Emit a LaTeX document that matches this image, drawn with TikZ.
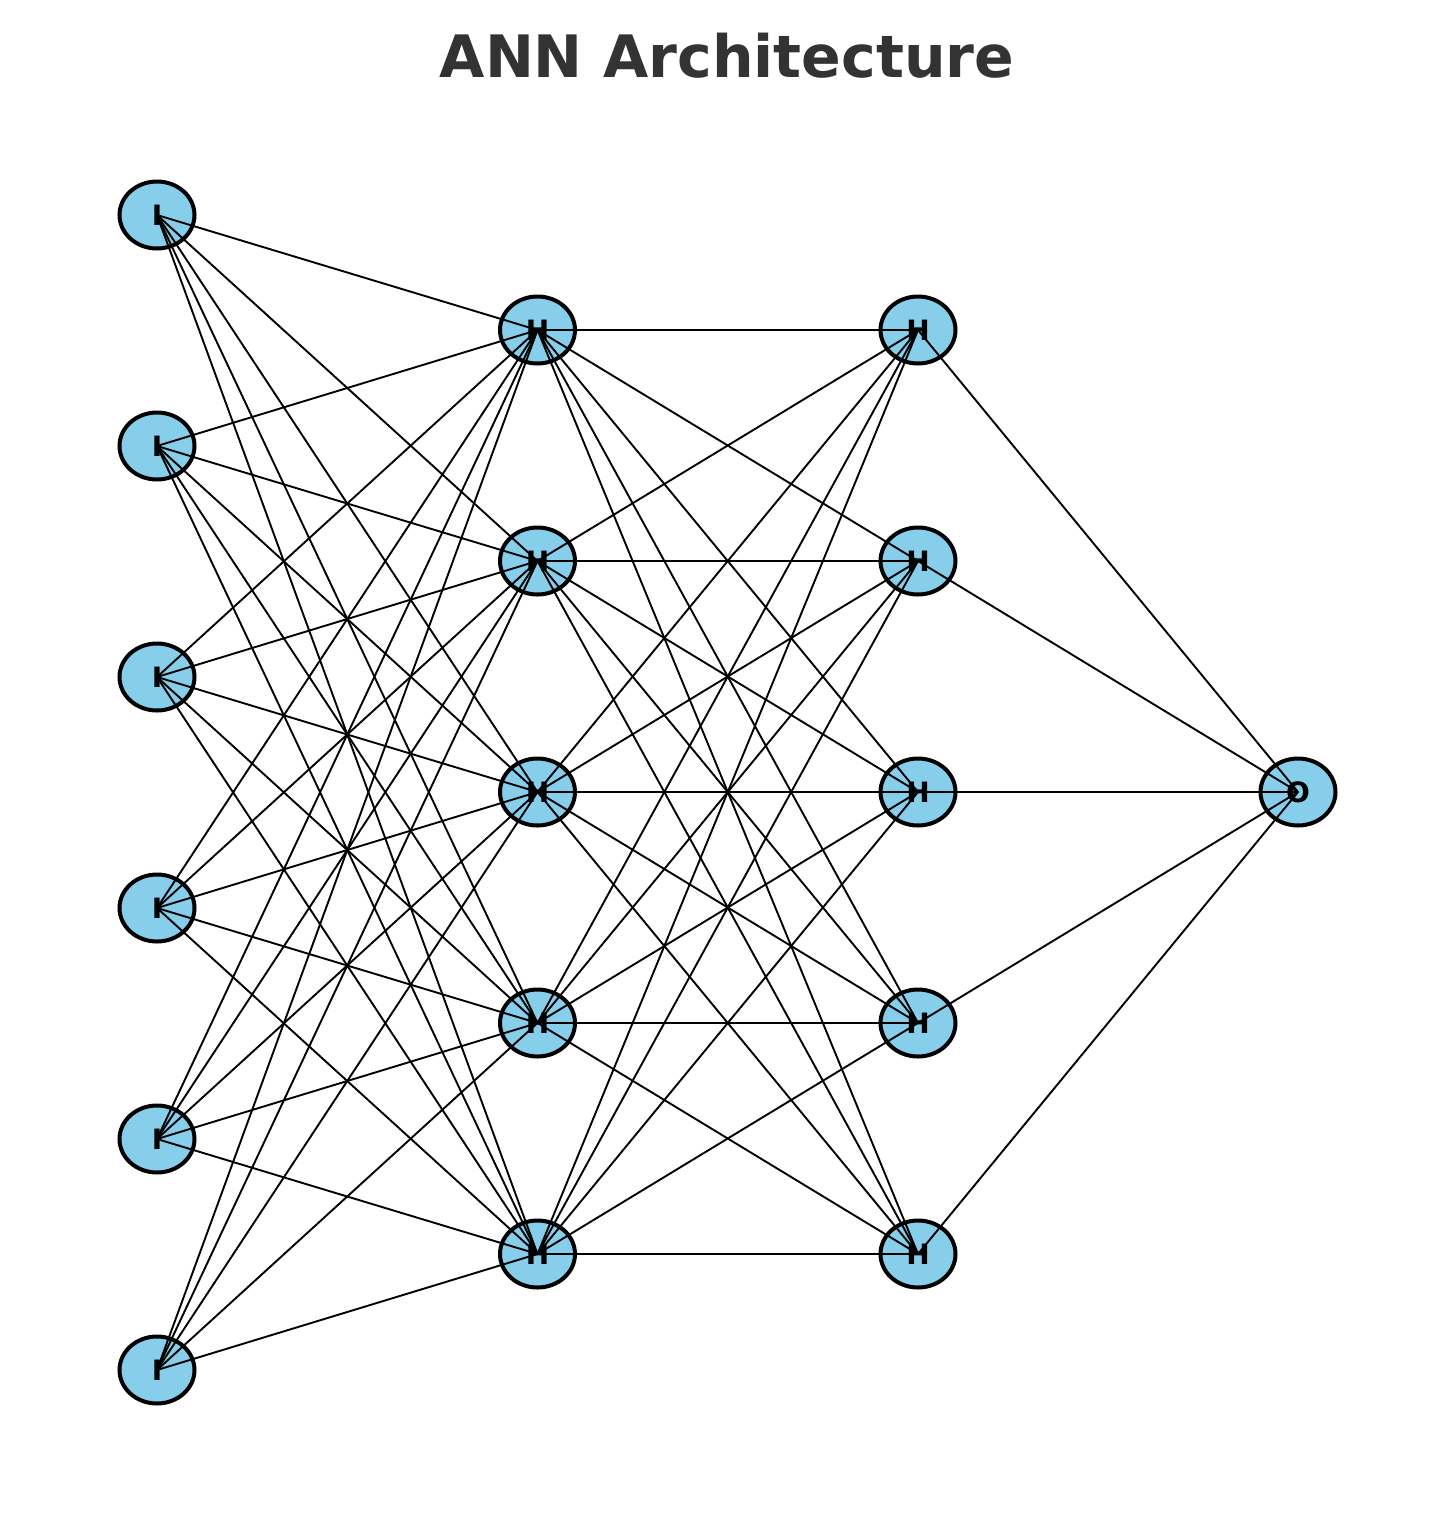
\documentclass[tikz,border=0pt]{standalone}
\usepackage{fontspec}
\newfontfamily\dvs{DejaVu Sans}
\usetikzlibrary{shapes.geometric}
\definecolor{skyblue}{HTML}{87CEEB}
\definecolor{titlegray}{HTML}{333333}
\tikzset{
  neuron/.style={ellipse, draw=black, line width=4pt, fill=skyblue,
    minimum width=75pt, minimum height=67pt, inner sep=0pt, outer sep=0pt},
  conn/.style={draw=black, line width=1.9pt},
  lbl/.style={inner sep=0pt, font=\dvs\bfseries\fontsize{28}{34}\selectfont, text=black},
}
\begin{document}
\begin{tikzpicture}[x=1pt,y=-1pt]
\useasboundingbox (0,0) rectangle (1455,1516);
\node[anchor=base, text=titlegray, inner sep=0pt, font=\dvs\bfseries\fontsize{58.5}{70}\selectfont] (title) at (727,77) {ANN Architecture};
% input layer
\foreach \k/\yy in {1/215,2/446,3/677,4/908,5/1139,6/1370}
  \node[neuron] (i\k) at (157,\yy) {};
% hidden layers
\foreach \k/\yy in {1/330,2/561,3/792,4/1023,5/1254}{
  \node[neuron] (a\k) at (537.5,\yy) {};
  \node[neuron] (b\k) at (918,\yy) {};
}
% output
\node[neuron] (o1) at (1298,792) {};
% connections
\foreach \p in {1,...,6}
  \foreach \q in {1,...,5}
    \draw[conn] (i\p.center) -- (a\q.center);
\foreach \p in {1,...,5}
  \foreach \q in {1,...,5}
    \draw[conn] (a\p.center) -- (b\q.center);
\foreach \p in {1,...,5}
  \draw[conn] (b\p.center) -- (o1.center);
% labels
\foreach \k in {1,...,6}
  \node[lbl] (li\k) at (i\k.center) {I};
\foreach \k in {1,...,5}{
  \node[lbl] (la\k) at (a\k.center) {H};
  \node[lbl] (lb\k) at (b\k.center) {H};
}
\node[lbl] (lo1) at (o1.center) {O};
\end{tikzpicture}
\end{document}
